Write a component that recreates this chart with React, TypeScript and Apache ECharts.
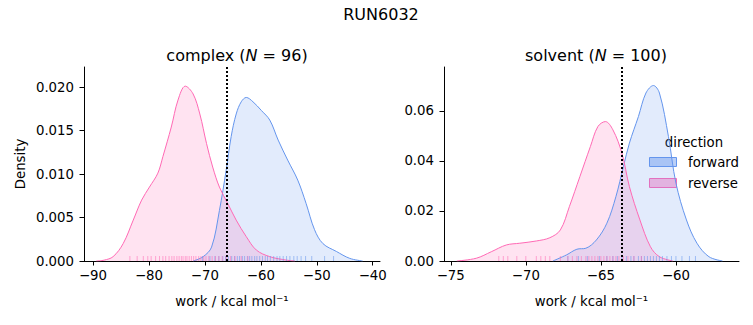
import React, { useEffect, useRef } from "react";
import * as echarts from "echarts";

const suptitle = "RUN6032";
const panelNames = ["complex", "solvent"];
const panelN = [96, 100];
const directions = ["forward", "reverse"];
const colors = ["#6495ED", "#FF69B4"];

const complexXTicks = [-90, -80, -70, -60, -50, -40];
const complexYTicks = [0, 0.005, 0.01, 0.015, 0.02];
const solventXTicks = [-75, -70, -65, -60];
const solventYTicks = [0, 0.02, 0.04, 0.06];

const complexForwardKde = [
  [-72.1, 0], [-70.3, 0.0005], [-68.8, 0.0016], [-67.4, 0.0058], [-66.2, 0.0104], [-65.3, 0.0143],
  [-64.4, 0.0169], [-63.5, 0.0183], [-62.6, 0.0188], [-61.4, 0.0183], [-59.9, 0.0173], [-58.4, 0.0162],
  [-56.9, 0.0139], [-55.2, 0.0116], [-53.4, 0.0093], [-51.9, 0.0066], [-50.4, 0.0036], [-48.9, 0.002],
  [-46.5, 0.0011], [-44.1, 0.0003], [-41.8, 0],
];
const complexReverseKde = [
  [-89.4, 0], [-88.0, 0.0001], [-86.4, 0.0005], [-84.6, 0.002], [-82.8, 0.0047], [-81.3, 0.007],
  [-79.9, 0.0085], [-78.4, 0.0101], [-77.5, 0.012], [-76.0, 0.0154], [-74.8, 0.0185], [-73.5, 0.0201],
  [-72.1, 0.0192], [-70.9, 0.0169], [-69.7, 0.0135], [-68.6, 0.0108], [-67.4, 0.0085], [-65.9, 0.0066],
  [-64.4, 0.0047], [-62.6, 0.0028], [-60.8, 0.00126], [-58.4, 0.0005], [-55.4, 0.0001], [-53.9, 0],
];
const solventForwardKde = [
  [-68.2, 0], [-67.3, 0.0024], [-66.6, 0.0047], [-66.0, 0.0051], [-65.3, 0.0084], [-64.6, 0.0151],
  [-64.0, 0.0257], [-63.5, 0.0377], [-63.1, 0.0471], [-62.5, 0.0577], [-62.0, 0.0671], [-61.5, 0.0701],
  [-61.1, 0.0671], [-60.5, 0.0497], [-60.0, 0.0311], [-59.3, 0.0164], [-58.6, 0.0071], [-57.8, 0.0017],
  [-56.9, 0],
];
const solventReverseKde = [
  [-74.6, 0], [-73.3, 0.0011], [-72.3, 0.0037], [-71.3, 0.0064], [-70.4, 0.0071], [-69.3, 0.008],
  [-68.4, 0.0093], [-67.7, 0.0124], [-67.1, 0.0217], [-66.4, 0.0337], [-65.7, 0.0457], [-65.2, 0.0537],
  [-64.7, 0.0557], [-64.2, 0.0524], [-63.6, 0.0431], [-63.1, 0.0297], [-62.4, 0.0164], [-61.7, 0.0057],
  [-61.1, 0.0017], [-60.2, 0],
];

const complexForwardRug = [-70.4, -69.1, -68.2, -67.5, -66.8, -66.3, -65.8, -65.2, -64.7, -64.2, -63.8, -63.3,
  -62.9, -62.4, -62.0, -61.6, -61.1, -60.7, -60.2, -59.7, -59.2, -58.8, -58.3, -57.7, -57.1, -56.6, -56.0,
  -55.4, -54.8, -54.1, -53.5, -52.8, -52.0, -50.9, -48.6, -47.0];
const complexReverseRug = [-83.4, -82.1, -81.0, -80.2, -79.6, -78.8, -78.1, -77.5, -77.0, -76.4, -75.9, -75.5,
  -75.0, -74.6, -74.2, -73.9, -73.5, -73.2, -72.8, -72.4, -72.0, -71.6, -71.1, -70.7, -70.2, -69.8, -69.3,
  -68.7, -68.1, -67.5, -66.9, -66.2, -65.4, -64.6, -63.5, -62.3];
const solventForwardRug = [-67.2, -66.5, -65.9, -65.1, -64.6, -64.2, -63.9, -63.6, -63.3, -63.0, -62.8, -62.5,
  -62.3, -62.1, -61.9, -61.7, -61.5, -61.3, -61.1, -60.9, -60.6, -60.3, -60.0, -59.6, -59.1, -58.7];
const solventReverseRug = [-71.8, -71.5, -71.2, -70.6, -70.0, -69.3, -69.0, -68.7, -68.4, -67.7, -67.2, -66.9,
  -66.6, -66.3, -66.0, -65.8, -65.6, -65.4, -65.2, -65.0, -64.8, -64.6, -64.4, -64.2, -64.0, -63.8, -63.5,
  -63.2, -62.8, -62.3];

const complexMean = -66.1;
const solventMean = -63.6;

const complexXRange = [-91.6, -38.7];
const complexYMax = 0.0223;
const solventXRange = [-75.45, -55.8];
const solventYMax = 0.0775;

const FONT = "DejaVu Sans";
const TICK_FS = 13.3;
const TITLE_FS = 16;

function hexA(hex: string, a: number) {
  const n = parseInt(hex.slice(1), 16);
  return `rgba(${(n >> 16) & 255},${(n >> 8) & 255},${n & 255},${a})`;
}

export default function App() {
  const ref = useRef<HTMLDivElement>(null);
  useEffect(() => {
    if (!ref.current) return;
    const chart = echarts.init(ref.current, null, { renderer: "svg" });

    const axisCommon = {
      axisLine: { show: true, onZero: false, lineStyle: { color: "#000", width: 1 } },
      axisTick: { show: true, length: 4.5, lineStyle: { color: "#000", width: 1 } },
      splitLine: { show: false },
    };
    const xAxis = (gi: number, range: number[], ticks: number[]) => ({
      type: "value", gridIndex: gi, min: range[0], max: range[1],
      ...axisCommon,
      axisTick: { ...axisCommon.axisTick, customValues: ticks },
      axisLabel: {
        customValues: ticks, color: "#000", fontFamily: FONT, fontSize: TICK_FS, margin: 8,
        formatter: (v: number) => String(v).replace("-", "\u2212"),
      },
      name: "work / kcal mol\u207B\u00B9", nameLocation: "middle", nameGap: 34,
      nameTextStyle: { color: "#000", fontFamily: FONT, fontSize: TICK_FS },
    });
    const yAxis = (gi: number, max: number, ticks: number[], dec: number, name: string) => ({
      type: "value", gridIndex: gi, min: 0, max,
      ...axisCommon,
      axisTick: { ...axisCommon.axisTick, customValues: ticks },
      axisLabel: {
        customValues: ticks, color: "#000", fontFamily: FONT, fontSize: TICK_FS, margin: 10,
        formatter: (v: number) => v.toFixed(dec),
      },
      name, nameLocation: "middle", nameGap: 57,
      nameTextStyle: { color: "#000", fontFamily: FONT, fontSize: TICK_FS },
    });

    const kdeSeries = (gi: number, data: number[][], color: string, name: string, mean?: number) => ({
      type: "line", name, xAxisIndex: gi, yAxisIndex: gi, data, smooth: 0.35, showSymbol: false,
      symbol: "none",
      lineStyle: { color, width: 1 },
      areaStyle: { color: hexA(color, 0.27), origin: "start" },
      z: 2,
      ...(mean !== undefined
        ? {
            markLine: {
              silent: true, symbol: "none", label: { show: false },
              lineStyle: { color: "#000", type: [2, 2], width: 2 },
              data: [{ xAxis: mean }],
            },
          }
        : {}),
    });

    const rugSeries = (gi: number, values: number[], color: string) => ({
      type: "custom", xAxisIndex: gi, yAxisIndex: gi, z: 3,
      data: values.map((v) => [v, 0]),
      encode: { x: 0, y: 1 },
      renderItem: (params: any, api: any) => {
        const p = api.coord([api.value(0), 0]);
        return {
          type: "line",
          shape: { x1: p[0], y1: p[1], x2: p[0], y2: p[1] - 5 },
          style: { stroke: hexA(color, 0.55), lineWidth: 1 },
        };
      },
    });

    const subTitle = (name: string, n: number, cx: number) => ({
      text: `${name} ({i|N} = ${n})`,
      left: cx, top: 42, textAlign: "center",
      textStyle: {
        fontFamily: FONT, fontSize: TITLE_FS, fontWeight: "normal", color: "#000",
        rich: { i: { fontFamily: FONT, fontStyle: "italic", fontSize: TITLE_FS, color: "#000" } },
      },
    });

    const legendGraphic: any[] = [
      {
        type: "text", x: 694, y: 142,
        style: {
          text: "direction", fontFamily: FONT, fontSize: TICK_FS, fill: "#000",
          textAlign: "center", textVerticalAlign: "middle",
        },
      },
    ];
    directions.forEach((d, i) => {
      legendGraphic.push({
        type: "rect", shape: { x: 649.5, y: 157.5 + i * 21, width: 27, height: 9 },
        style: { fill: hexA(colors[i], 0.45), stroke: colors[i], lineWidth: 1 },
      });
      legendGraphic.push({
        type: "text", x: 688, y: 162.5 + i * 21,
        style: { text: d, fontFamily: FONT, fontSize: TICK_FS, fill: "#000", textVerticalAlign: "middle" },
      });
    });

    chart.setOption({
      animation: false,
      backgroundColor: "#fff",
      title: [
        {
          text: suptitle, left: 376, top: 1, textAlign: "center",
          textStyle: { fontFamily: FONT, fontSize: TITLE_FS, fontWeight: "normal", color: "#000" },
        },
        subTitle(panelNames[0], panelN[0], 232),
        subTitle(panelNames[1], panelN[1], 591),
      ],
      grid: [
        { left: 84, top: 67, width: 296, height: 194 },
        { left: 444, top: 67, width: 295, height: 194 },
      ],
      xAxis: [xAxis(0, complexXRange, complexXTicks), xAxis(1, solventXRange, solventXTicks)],
      yAxis: [
        yAxis(0, complexYMax, complexYTicks, 3, "Density"),
        yAxis(1, solventYMax, solventYTicks, 2, ""),
      ],
      series: [
        kdeSeries(0, complexForwardKde, colors[0], directions[0], complexMean),
        kdeSeries(0, complexReverseKde, colors[1], directions[1]),
        kdeSeries(1, solventForwardKde, colors[0], directions[0], solventMean),
        kdeSeries(1, solventReverseKde, colors[1], directions[1]),
        rugSeries(0, complexForwardRug, colors[0]),
        rugSeries(0, complexReverseRug, colors[1]),
        rugSeries(1, solventForwardRug, colors[0]),
        rugSeries(1, solventReverseRug, colors[1]),
      ],
      graphic: legendGraphic,
    });
    return () => chart.dispose();
  }, []);
  return (
    <div
      ref={ref}
      style={{ position: "fixed", left: 0, top: 0, width: 753, height: 325, background: "#fff" }}
    />
  );
}
